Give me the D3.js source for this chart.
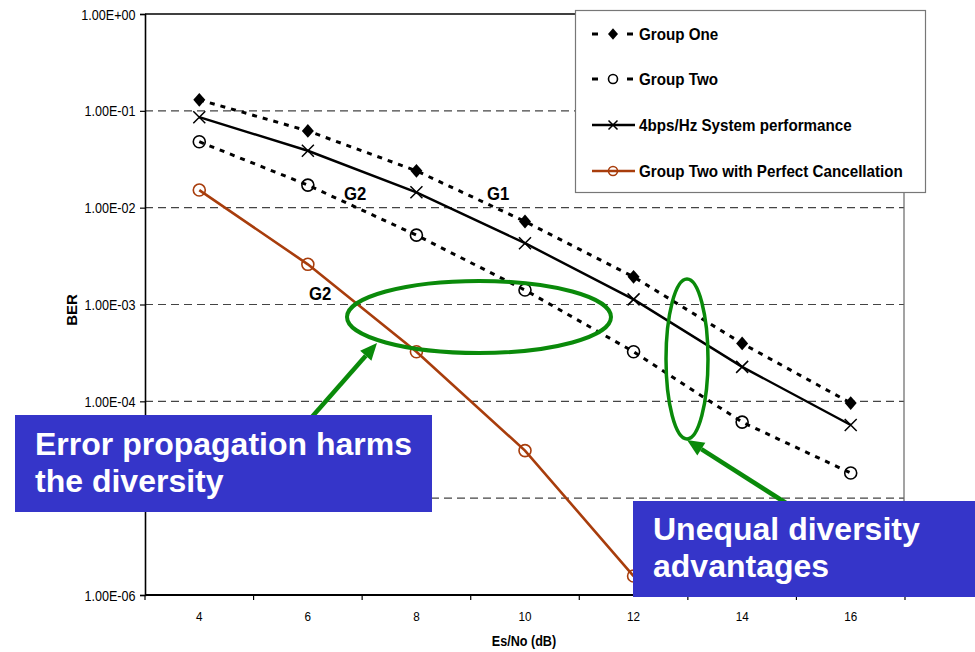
<!DOCTYPE html>
<html>
<head>
<meta charset="utf-8">
<script src="https://cdn.jsdelivr.net/npm/d3@7"></script>
<style>
  html, body { margin: 0; padding: 0; background: #fff; }
  svg { display: block; font-family: "Liberation Sans", Arial, sans-serif; }
</style>
</head>
<body>
<svg id="chart" width="975" height="652"></svg>
<script>
// ---- data ----
const categories = [4, 6, 8, 10, 12, 14, 16];
const groupOne = [1.3e-1, 6.2e-2, 2.4e-2, 7.2e-3, 1.93e-3, 3.96e-4, 9.6e-5];
const groupTwo = [4.8e-2, 1.71e-2, 5.2e-3, 1.41e-3, 3.25e-4, 6.1e-5, 1.82e-5];
const system4bps = [8.6e-2, 3.87e-2, 1.44e-2, 4.3e-3, 1.13e-3, 2.27e-4, 5.7e-5];
const perfectCancel = [1.52e-2, 2.6e-3, 3.25e-4, 3.1e-5, 1.57e-6];
const yTickValues = [1, 1e-1, 1e-2, 1e-3, 1e-4, 1e-5, 1e-6];
// the 1e-5 label sits beneath the left message box, so it is left blank
const yTickLabels = ["1.00E+00", "1.00E-01", "1.00E-02", "1.00E-03", "1.00E-04", "", "1.00E-06"];
const legendLabels = ["Group One", "Group Two", "4bps/Hz System performance", "Group Two with Perfect Cancellation"];
const xTitle = "Es/No (dB)";
const yTitle = "BER";

const svg = d3.select("#chart");
const plot = { left: 145, right: 905, top: 14, bottom: 595 };

const x = d3.scaleBand().domain(categories).range([plot.left, plot.right]);
const cx = c => x(c) + x.bandwidth() / 2;
const y = d3.scaleLog().domain([1e-6, 1]).range([plot.bottom, plot.top]);

// text helper: slightly condensed glyphs like the chart's typeface
function label(g, px, py, str, size, opts = {}) {
  return g.append("text")
    .attr("transform", `translate(${px},${py}) scale(${opts.sx ?? 0.9},1)` + (opts.rotate ? ` rotate(${opts.rotate})` : ""))
    .attr("text-anchor", opts.anchor || "start")
    .attr("font-size", size)
    .attr("font-weight", opts.bold ? "bold" : "normal")
    .attr("fill", opts.fill || "#000")
    .text(str);
}

// ---- gridlines ----
svg.append("g").selectAll("line")
  .data(yTickValues.filter(v => v < 1 && v > 1e-6))
  .join("line")
  .attr("x1", plot.left).attr("x2", plot.right - 1)
  .attr("y1", d => y(d)).attr("y2", d => y(d))
  .attr("stroke", "#444").attr("stroke-width", 1.2)
  .attr("stroke-dasharray", "8,5");

// plot border (top and right)
svg.append("line").attr("x1", plot.left).attr("x2", plot.right - 1)
  .attr("y1", plot.top).attr("y2", plot.top).attr("stroke", "#000").attr("stroke-width", 1.5);
svg.append("line").attr("x1", plot.right - 1).attr("x2", plot.right - 1)
  .attr("y1", plot.top).attr("y2", plot.bottom).attr("stroke", "#666").attr("stroke-width", 1.2);

// ---- y axis ----
const yAxis = svg.append("g")
  .attr("transform", `translate(${plot.left},0)`)
  .call(d3.axisLeft(y).tickValues(yTickValues)
    .tickFormat(v => yTickLabels[yTickValues.indexOf(v)]).tickSize(5).tickPadding(0));
yAxis.select(".domain").attr("stroke", "#000").attr("stroke-width", 1.6);
yAxis.selectAll(".tick line").attr("stroke", "#000").attr("stroke-width", 1.2);
yAxis.selectAll(".tick text")
  .attr("x", null).attr("dy", null)
  .attr("transform", "translate(-9.5,5) scale(0.9,1)")
  .attr("font-size", 14).attr("font-family", "Liberation Sans, Arial, sans-serif").attr("fill", "#000");

// ---- x axis ----
const xg = svg.append("g");
xg.append("line").attr("x1", plot.left).attr("x2", plot.right)
  .attr("y1", plot.bottom).attr("y2", plot.bottom).attr("stroke", "#000").attr("stroke-width", 2);
xg.selectAll("line.tk")
  .data(categories.map(c => x(c)).concat([x(categories[categories.length - 1]) + x.bandwidth()]))
  .join("line").attr("class", "tk")
  .attr("x1", d => d).attr("x2", d => d)
  .attr("y1", plot.bottom).attr("y2", plot.bottom + 5)
  .attr("stroke", "#000").attr("stroke-width", 1.2);
categories.forEach(c => label(xg, cx(c), 621, String(c), 13, { anchor: "middle" }));

// axis titles
label(svg, 524, 646, xTitle, 14, { anchor: "middle", bold: true });
label(svg, 77, 310, yTitle, 15, { anchor: "middle", bold: true, sx: 1, rotate: -90 });

// ---- series ----
const brown = "#a83d0c";
const lineGen = vals => d3.line().x((d, i) => cx(categories[i])).y(d => y(d))(vals);

const series = [
  { vals: groupOne, color: "#000", width: 3, dash: "5,6", marker: "diamond" },
  { vals: groupTwo, color: "#000", width: 3, dash: "5,6", marker: "circle" },
  { vals: system4bps, color: "#000", width: 2.4, dash: null, marker: "x" },
  { vals: perfectCancel, color: brown, width: 2.6, dash: null, marker: "circle" }
];

function drawMarker(g, kind, px, py, color, s) {
  if (kind === "diamond") {
    g.append("path")
      .attr("d", `M${px},${py - s * 1.15}L${px + s},${py}L${px},${py + s * 1.15}L${px - s},${py}Z`)
      .attr("fill", color);
  } else if (kind === "circle") {
    g.append("circle").attr("cx", px).attr("cy", py).attr("r", s)
      .attr("fill", "none").attr("stroke", color).attr("stroke-width", 1.6);
  } else if (kind === "x") {
    g.append("path")
      .attr("d", `M${px - s},${py - s}L${px + s},${py + s}M${px - s},${py + s}L${px + s},${py - s}`)
      .attr("stroke", color).attr("stroke-width", 1.5).attr("fill", "none");
  }
}

const seriesG = svg.append("g");
series.forEach(sr => {
  seriesG.append("path")
    .attr("d", lineGen(sr.vals))
    .attr("fill", "none").attr("stroke", sr.color).attr("stroke-width", sr.width)
    .attr("stroke-dasharray", sr.dash);
  sr.vals.forEach((v, i) => {
    drawMarker(seriesG, sr.marker, cx(categories[i]), y(v), sr.color, 6);
  });
});

// ---- legend ----
const lg = svg.append("g");
lg.append("rect").attr("x", 575.5).attr("y", 10.5).attr("width", 350).attr("height", 182)
  .attr("fill", "#fff").attr("stroke", "#777").attr("stroke-width", 1.2);
const legendY = [34, 79, 125, 171];
series.forEach((sr, i) => {
  const ly = legendY[i];
  if (sr.dash) {
    lg.append("line").attr("x1", 592).attr("x2", 598).attr("y1", ly).attr("y2", ly)
      .attr("stroke", sr.color).attr("stroke-width", 3);
    lg.append("line").attr("x1", 627).attr("x2", 633).attr("y1", ly).attr("y2", ly)
      .attr("stroke", sr.color).attr("stroke-width", 3);
  } else {
    lg.append("line").attr("x1", 592).attr("x2", 635).attr("y1", ly).attr("y2", ly)
      .attr("stroke", sr.color).attr("stroke-width", sr.width);
  }
  drawMarker(lg, sr.marker, 613, ly, sr.color, sr.marker === "diamond" ? 5 : 4.5);
  label(lg, 639, ly + 6, legendLabels[i], 16, { bold: true, sx: 0.95 });
});

// ---- curve tags ----
label(svg, 344, 200, "G2", 19, { bold: true, sx: 0.88 });
label(svg, 487, 200, "G1", 19, { bold: true, sx: 0.88 });
label(svg, 309, 300, "G2", 19, { bold: true, sx: 0.88 });

// ---- callouts ----
const green = "#0a8a0a";
const ann = svg.append("g");
ann.append("ellipse").attr("cx", 479).attr("cy", 317).attr("rx", 132).attr("ry", 36)
  .attr("fill", "none").attr("stroke", green).attr("stroke-width", 4);
ann.append("ellipse").attr("cx", 687).attr("cy", 359).attr("rx", 21).attr("ry", 80)
  .attr("fill", "none").attr("stroke", green).attr("stroke-width", 3.5);

function arrow(g, x0, y0, x1, y1) {
  const ang = Math.atan2(y1 - y0, x1 - x0);
  const len = 17, half = 7.5;
  const bx = x1 - len * Math.cos(ang), by = y1 - len * Math.sin(ang);
  g.append("line").attr("x1", x0).attr("y1", y0).attr("x2", bx).attr("y2", by)
    .attr("stroke", green).attr("stroke-width", 4.5);
  g.append("path")
    .attr("d", `M${x1},${y1}L${bx + half * Math.sin(ang)},${by - half * Math.cos(ang)}L${bx - half * Math.sin(ang)},${by + half * Math.cos(ang)}Z`)
    .attr("fill", green);
}
arrow(ann, 311, 418, 377, 343);
arrow(ann, 786, 503, 687, 440);

// ---- message boxes ----
const boxBlue = "#3535c9";
const boxes = [
  { x: 15, y: 415, w: 417, h: 97, lines: ["Error propagation harms", "the diversity"], tx: 35, ty: [455, 492] },
  { x: 633, y: 501, w: 342, h: 96, lines: ["Unequal diversity", "advantages"], tx: 653, ty: [540, 577] }
];
boxes.forEach(b => {
  svg.append("rect").attr("x", b.x).attr("y", b.y).attr("width", b.w).attr("height", b.h).attr("fill", boxBlue);
  b.lines.forEach((t, i) => label(svg, b.tx, b.ty[i], t, 32, { bold: true, sx: 1, fill: "#fff" }));
});
</script>
</body>
</html>
